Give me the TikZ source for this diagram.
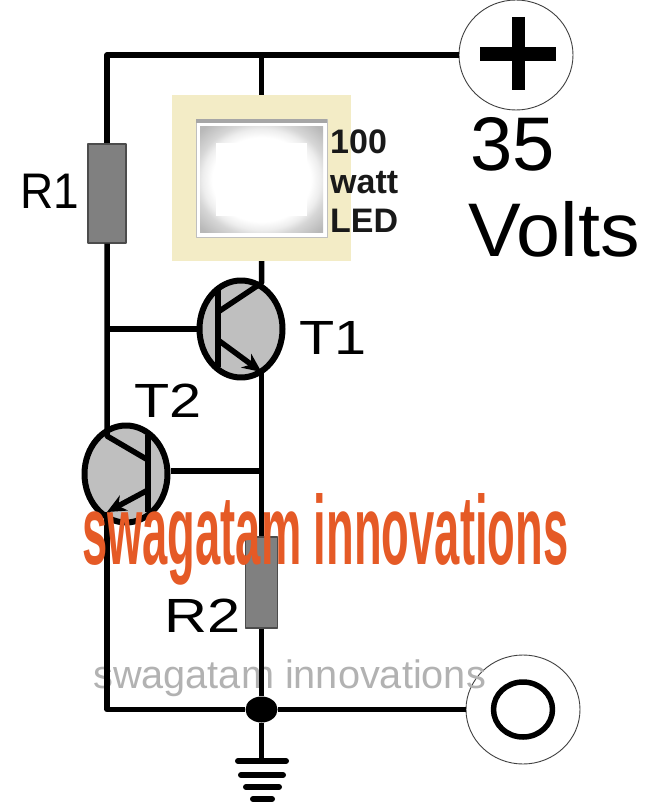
\documentclass[tikz,border=0pt]{standalone}
\usepackage{fontspec}
\setmainfont{Liberation Sans}
\usetikzlibrary{shapes.geometric,arrows.meta}
\definecolor{ledbg}{HTML}{F3ECC6}
\definecolor{wmark}{HTML}{E55A26}
\pgfdeclareradialshading{ledglow}{\pgfpoint{0bp}{0bp}}{color(0bp)=(white);color(20bp)=(white);color(24bp)=(black!7);color(27bp)=(black!16);color(34bp)=(black!28);color(50bp)=(black!28)}
\tikzset{
	wire/.style={line width=5.5pt},
	res/.style={draw=black!70,line width=1.2pt,fill=black!50,inner sep=0pt},
	tran/.style={ellipse,draw,line width=6pt,fill=black!25,inner sep=0pt,minimum width=83pt,minimum height=97pt},
	term/.style={ellipse,draw=black!75,line width=.9pt,fill=white,inner sep=0pt,minimum width=114pt,minimum height=110pt},
	lbl/.style={inner sep=0pt,anchor=base west,font=\fontsize{48}{48}\selectfont},
	earth/.style={line width=6pt,line cap=round}
}
\begin{document}
\begin{tikzpicture}[x=1pt,y=-1pt,line join=round,>={Stealth[length=19pt,width=17pt]}]
	\useasboundingbox (0,0) rectangle (648,810);
	% LED
	\fill[ledbg] (172,95) rectangle (351,261);
	\node[minimum width=179pt,minimum height=166pt,inner sep=0pt] (led) at (261.5,178) {};
	\fill[white,draw=black!25,line width=.7pt] (196,119) rectangle (327,237);
	\fill[black!35] (196,119) rectangle (327,123);
	\shade[shading=ledglow] (200,127) rectangle (323,232);
	\fill[white] (216,143) rectangle (307,216);
	\node[anchor=base west,inner sep=0pt,font=\fontsize{34}{34}\selectfont\bfseries,text=black!90] (txta) at (330,154) {100};
	\node[anchor=base west,inner sep=0pt,font=\fontsize{34}{34}\selectfont\bfseries,text=black!90] (txtb) at (330,194) {watt};
	\node[anchor=base west,inner sep=0pt,font=\fontsize{34}{34}\selectfont\bfseries,text=black!90] (txtc) at (330,233) {LED};
	% terminals
	\node[term] (plus) at (516,55) {};
	\node[term,minimum height=109pt] (minus) at (523,709.5) {};
	\draw[line width=14pt] (480,54)--(556,54);
	\draw[line width=13pt] (518,17)--(518,90);
	\draw[line width=5.5pt] (minus) ellipse (29.5 and 27.5);
	\node[text=black!30,anchor=base west,inner sep=0pt,font=\fontsize{39.7}{40}\selectfont] (mark2) at (93,688) {swagatam innovations};
	% parts
	\node[res,minimum width=38pt,minimum height=99pt] (R1) at (107,193.5) {};
	\node[res,minimum width=32pt,minimum height=91pt] (R2) at (261.5,582.5) {};
	\node[tran] (T1) at (241,329) {};
	\node[tran] (T2) at (126,474) {};
	\coordinate (tl) at (107,55);
	\coordinate (ttop) at (261.5,55);
	\coordinate (tc1) at (261.5,283);
	\coordinate (te1) at (261.5,372);
	\coordinate (tb1) at (218,312);
	\coordinate (tb1e) at (218,340);
	\coordinate (nb1) at (107,329);
	\coordinate (nb2) at (261.5,471);
	\coordinate (tc2) at (107,436);
	\coordinate (te2) at (107,512);
	\coordinate (tb2) at (148,460);
	\coordinate (tb2e) at (148,490);
	\coordinate (bl) at (107,709.5);
	\node[ellipse,fill=black,inner sep=0pt,minimum width=32pt,minimum height=26pt] (dot) at (261.5,709.5) {};
	\coordinate (gnd) at (261.5,761);
	% wires
	\draw[wire] (plus)--(tl)--(R1.north);
	\draw[wire] (ttop)--(led.north);
	\draw[wire] (led.south)--(tc1)--(tb1);
	\draw[wire] (R1.south)--(tc2)--(tb2);
	\draw[wire] (nb1)--(T1.west);
	\draw[wire] (T2.east|-nb2)--(nb2);
	\draw[wire] (te1)--(R2.north);
	\draw[wire] (R2.south)--(dot);
	\draw[wire] (te2)--(bl)--(dot)--(minus);
	\draw[wire] (dot)--(gnd);
	\draw[line width=5.5pt] (218,290)--(218,367);
	\draw[line width=5.5pt] (148,435)--(148,512);
	\draw[wire,->] (tb1e)--(te1);
	\draw[wire,->] (tb2e)--(te2);
	\draw[earth] (238,761)--(286,761);
	\draw[earth] (241,775)--(283,775);
	\draw[earth] (246,787)--(279,787);
	\draw[earth] (253,799)--(272,799);
	% labels
	\node[lbl,font=\fontsize{50}{50}\selectfont] (lr1) at (20,209) {\scalebox{0.92}[1]{R1}};
	\node[lbl] (lt1) at (299,354) {\scalebox{1.2}[1]{T1}};
	\node[lbl] (lt2) at (134,417) {\scalebox{1.2}[1]{T2}};
	\node[lbl] (lr2) at (164,632) {\scalebox{1.24}[1]{R2}};
	\node[anchor=base west,inner sep=0pt,font=\fontsize{76}{76}\selectfont] (volta) at (470,171) {35};
	\node[anchor=base west,inner sep=0pt,font=\fontsize{76}{76}\selectfont] (voltb) at (468,256) {\scalebox{1.04}[1]{Volts}};
	\node[anchor=base west,inner sep=0pt,text=wmark,font=\fontsize{98}{98}\selectfont\bfseries] (mark1) at (82,564) {\scalebox{0.4626}[1]{swagatam innovations}};
\end{tikzpicture}
\end{document}
